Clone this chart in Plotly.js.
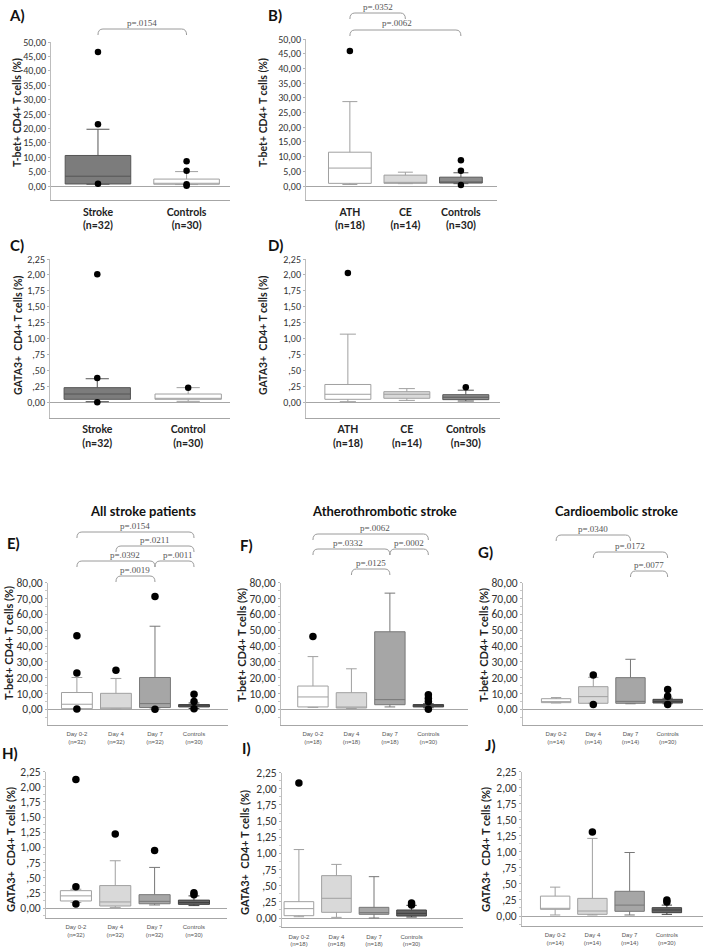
<!DOCTYPE html>
<html><head><meta charset="utf-8">
<script src="https://cdn.plot.ly/plotly-3.0.1.min.js"></script>
<style>body{margin:0;background:#fff}#c{width:708px;height:948px}</style>
</head><body><div id="c"></div>
<script>
// ---------- DATA ----------
// Tick labels
const tbet50Vals = [0,5,10,15,20,25,30,35,40,45,50];
const tbet50Text = ['0,00','5,00','10,00','15,00','20,00','25,00','30,00','35,00','40,00','45,00','50,00'];
const tbet80Vals = [0,10,20,30,40,50,60,70,80];
const tbet80Text = ['0,00','10,00','20,00','30,00','40,00','50,00','60,00','70,00','80,00'];
const gataVals = [0,0.25,0.5,0.75,1,1.25,1.5,1.75,2,2.25];
const gataText = ['0,00',',25',',50',',75','1,00','1,25','1,50','1,75','2,00','2,25'];

// Panel A: T-bet, Stroke vs Controls
const A_cats = ['Stroke','Controls'];
const A_labels = ['Stroke<br>(n=32)','Controls<br>(n=30)'];
const A_lower = [0.6, 0.5];
const A_q1 = [0.7, 0.6];
const A_median = [3.4, 0.9];
const A_q3 = [10.6, 2.4];
const A_upper = [19.7, 5.0];
const A_outCat = ['Stroke','Stroke','Stroke','Controls','Controls','Controls','Controls'];
const A_outVal = [46.5, 21.4, 0.8, 8.6, 5.3, 0.6, 0.1];

// Panel B: T-bet, ATH / CE / Controls
const B_cats = ['ATH','CE','Controls'];
const B_labels = ['ATH<br>(n=18)','CE<br>(n=14)','Controls<br>(n=30)'];
const B_lower = [0.5, 0.8, 0.8];
const B_q1 = [0.9, 0.9, 1.0];
const B_median = [6.1, 1.1, 1.3];
const B_q3 = [11.5, 3.7, 3.0];
const B_upper = [28.7, 4.7, 4.5];
const B_outCat = ['ATH','Controls','Controls','Controls'];
const B_outVal = [45.9, 8.8, 5.2, 0.3];

// Panel C: GATA3, Stroke vs Control
const C_cats = ['Stroke','Control'];
const C_labels = ['Stroke<br>(n=32)','Control<br>(n=30)'];
const C_lower = [0.01, 0.015];
const C_q1 = [0.047, 0.047];
const C_median = [0.13, 0.05];
const C_q3 = [0.23, 0.13];
const C_upper = [0.37, 0.23];
const C_outCat = ['Stroke','Stroke','Stroke','Control'];
const C_outVal = [2.01, 0.38, 0.0, 0.23];

// Panel D: GATA3, ATH / CE / Controls
const D_cats = ['ATH','CE','Controls'];
const D_labels = ['ATH<br>(n=18)','CE<br>(n=14)','Controls<br>(n=30)'];
const D_lower = [0.01, 0.03, 0.02];
const D_q1 = [0.047, 0.063, 0.042];
const D_median = [0.126, 0.126, 0.08];
const D_q3 = [0.28, 0.167, 0.12];
const D_upper = [1.07, 0.215, 0.19];
const D_outCat = ['ATH','Controls'];
const D_outVal = [2.03, 0.235];

// Time-course categories
const dayCats = ['Day 0-2','Day 4','Day 7','Controls'];
const allLabels = ['Day 0-2<br>(n=32)','Day 4<br>(n=32)','Day 7<br>(n=32)','Controls<br>(n=30)'];
const athLabels = ['Day 0-2<br>(n=18)','Day 4<br>(n=18)','Day 7<br>(n=18)','Controls<br>(n=30)'];
const ceLabels  = ['Day 0-2<br>(n=14)','Day 4<br>(n=14)','Day 7<br>(n=14)','Controls<br>(n=30)'];

// Panel E: T-bet, all stroke patients
const E_lower = [0.3, 0.1, 0.8, 0.5];
const E_q1 = [0.4, 0.2, 1.1, 1.5];
const E_median = [3.2, 0.3, 3.6, 2.2];
const E_q3 = [10.6, 10.1, 20.1, 3.0];
const E_upper = [20.1, 19.5, 52.5, 4.0];
const E_outCat = ['Day 0-2','Day 0-2','Day 0-2','Day 4','Day 7','Day 7','Controls','Controls','Controls'];
const E_outVal = [46.5, 23.0, 0.2, 24.7, 71.3, 0.0, 9.5, 4.9, 0.3];

// Panel F: T-bet, atherothrombotic
const F_lower = [1.2, 0.5, 1.5, 1.0];
const F_q1 = [1.5, 0.8, 2.9, 1.5];
const F_median = [7.8, 1.0, 6.1, 2.2];
const F_q3 = [14.7, 10.5, 49.0, 3.0];
const F_upper = [33.3, 25.6, 73.4, 3.5];
const F_outCat = ['Day 0-2','Controls','Controls','Controls','Controls'];
const F_outVal = [46.0, 9.2, 7.0, 5.0, 0.0];

// Panel G: T-bet, cardioembolic
const G_lower = [4.0, 3.8, 3.5, 3.5];
const G_q1 = [4.2, 3.8, 3.8, 4.0];
const G_median = [4.5, 8.0, 5.0, 5.0];
const G_q3 = [6.7, 14.3, 20.0, 6.3];
const G_upper = [7.4, 20.2, 31.6, 7.0];
const G_outCat = ['Day 4','Day 4','Controls','Controls','Controls'];
const G_outVal = [21.7, 3.1, 12.5, 8.3, 3.1];

// Panel H: GATA3, all stroke patients
const H_lower = [0.09, 0.01, 0.05, 0.04];
const H_q1 = [0.116, 0.033, 0.07, 0.06];
const H_median = [0.20, 0.10, 0.11, 0.09];
const H_q3 = [0.286, 0.37, 0.22, 0.13];
const H_upper = [0.31, 0.78, 0.67, 0.20];
const H_outCat = ['Day 0-2','Day 0-2','Day 0-2','Day 4','Day 7','Controls','Controls'];
const H_outVal = [2.12, 0.35, 0.066, 1.22, 0.95, 0.22, 0.25];

// Panel I: GATA3, atherothrombotic
const I_lower = [0.02, 0.01, 0.0, 0.015];
const I_q1 = [0.036, 0.088, 0.057, 0.031];
const I_median = [0.145, 0.305, 0.083, 0.072];
const I_q3 = [0.253, 0.656, 0.165, 0.124];
const I_upper = [1.06, 0.83, 0.64, 0.196];
const I_outCat = ['Day 0-2','Controls','Controls'];
const I_outVal = [2.09, 0.232, 0.2];

// Panel J: GATA3, cardioembolic
const J_lower = [0.016, 0.016, 0.016, 0.026];
const J_q1 = [0.104, 0.026, 0.073, 0.052];
const J_median = [0.12, 0.078, 0.17, 0.094];
const J_q3 = [0.31, 0.275, 0.385, 0.13];
const J_upper = [0.45, 1.21, 0.99, 0.17];
const J_outCat = ['Day 4','Controls','Controls'];
const J_outVal = [1.31, 0.25, 0.22];

// ---------- LAYOUT / STYLE ----------
const W = 708, H = 948;
const X = p => p / W, Y = p => 1 - p / H;

const fillsAC = ['#7c7c7c', '#ffffff'], linesAC = ['#555555', '#a0a0a0'];
const fillsBD = ['#ffffff', '#d9d9d9', '#8c8c8c'], linesBD = ['#a0a0a0', '#a0a0a0', '#585858'];
const fillsT = ['#ffffff', '#d9d9d9', '#a6a6a6', '#646464'], linesT = ['#a0a0a0', '#a0a0a0', '#777777', '#404040'];

const tbetTitle = 'T-bet+ CD4+ T cells (%)';
const gataTitle = 'GATA3+  CD4+ T cells (%)';

const panels = [
  {lab:'A)', lx:17, ly:15, cats:A_cats, labels:A_labels, st:[A_lower,A_q1,A_median,A_q3,A_upper], oc:A_outCat, ov:A_outVal,
   x0:51, x1:230, yt:42, y0:186, yb:200, vt:50, xr:[-0.53,1.49], bw:0.74, fills:fillsAC, lines:linesAC,
   tv:tbet50Vals, tt:tbet50Text, big:false, title:tbetTitle, tx:17, ty:113},
  {lab:'B)', lx:275, ly:15, cats:B_cats, labels:B_labels, st:[B_lower,B_q1,B_median,B_q3,B_upper], oc:B_outCat, ov:B_outVal,
   x0:306, x1:497, yt:39, y0:186, yb:200, vt:50, xr:[-0.79,2.65], bw:0.77, fills:fillsBD, lines:linesBD,
   tv:tbet50Vals, tt:tbet50Text, big:false, title:tbetTitle, tx:263, ty:113},
  {lab:'C)', lx:17, ly:245, cats:C_cats, labels:C_labels, st:[C_lower,C_q1,C_median,C_q3,C_upper], oc:C_outCat, ov:C_outVal,
   x0:50, x1:230, yt:259, y0:402.3, yb:417.7, vt:2.25, xr:[-0.52,1.46], bw:0.73, fills:fillsAC, lines:linesAC,
   tv:gataVals, tt:gataText, big:false, title:gataTitle, tx:18, ty:335},
  {lab:'D)', lx:275, ly:245, cats:D_cats, labels:D_labels, st:[D_lower,D_q1,D_median,D_q3,D_upper], oc:D_outCat, ov:D_outVal,
   x0:306, x1:500, yt:259, y0:402.3, yb:417.7, vt:2.25, xr:[-0.71,2.58], bw:0.78, fills:fillsBD, lines:linesBD,
   tv:gataVals, tt:gataText, big:false, title:gataTitle, tx:263, ty:335},
  {lab:'E)', lx:13, ly:543, cats:dayCats, labels:allLabels, st:[E_lower,E_q1,E_median,E_q3,E_upper], oc:E_outCat, ov:E_outVal,
   x0:48, x1:228, yt:582.7, y0:709.3, yb:724.5, vt:80, xr:[-0.74,3.87], bw:0.79, fills:fillsT, lines:linesT,
   tv:tbet80Vals, tt:tbet80Text, big:true, minor:5, title:tbetTitle, tx:8, ty:643},
  {lab:'F)', lx:246, ly:545, cats:dayCats, labels:athLabels, st:[F_lower,F_q1,F_median,F_q3,F_upper], oc:F_outCat, ov:F_outVal,
   x0:281, x1:468, yt:582.7, y0:709.3, yb:724.5, vt:80, xr:[-0.83,4.03], bw:0.79, fills:fillsT, lines:linesT,
   tv:tbet80Vals, tt:tbet80Text, big:true, minor:5, title:tbetTitle, tx:241, ty:645},
  {lab:'G)', lx:486, ly:552, cats:dayCats, labels:ceLabels, st:[G_lower,G_q1,G_median,G_q3,G_upper], oc:G_outCat, ov:G_outVal,
   x0:523, x1:703, yt:582.7, y0:709.3, yb:724.5, vt:80, xr:[-0.89,3.95], bw:0.79, fills:fillsT, lines:linesT,
   tv:tbet80Vals, tt:tbet80Text, big:true, minor:5, title:tbetTitle, tx:483, ty:645},
  {lab:'H)', lx:10, ly:753, cats:dayCats, labels:allLabels, st:[H_lower,H_q1,H_median,H_q3,H_upper], oc:H_outCat, ov:H_outVal,
   x0:46, x1:227, yt:771.7, y0:908, yb:917.7, vt:2.25, xr:[-0.76,3.84], bw:0.79, fills:fillsT, lines:linesT,
   tv:gataVals, tt:gataText, big:true, minor:0.125, title:gataTitle, tx:10, ty:850},
  {lab:'I)', lx:247, ly:748, cats:dayCats, labels:athLabels, st:[I_lower,I_q1,I_median,I_q3,I_upper], oc:I_outCat, ov:I_outVal,
   x0:282, x1:463, yt:772.7, y0:918, yb:927.3, vt:2.25, xr:[-0.45,4.37], bw:0.79, fills:fillsT, lines:linesT,
   tv:gataVals, tt:gataText, big:true, minor:0.125, title:gataTitle, tx:244, ty:853},
  {lab:'J)', lx:490, ly:745, cats:dayCats, labels:ceLabels, st:[J_lower,J_q1,J_median,J_q3,J_upper], oc:J_outCat, ov:J_outVal,
   x0:522, x1:703, yt:771.7, y0:916, yb:926, vt:2.25, xr:[-0.89,3.97], bw:0.79, fills:fillsT, lines:linesT,
   tv:gataVals, tt:gataText, big:true, minor:0.125, title:gataTitle, tx:485, ty:850}
];

// significance brackets: panel index, from category, to category, bracket top (px), label, text shift (px)
const brackets = [
  [0, 0, 1, 29, 'p=.0154', 0],
  [1, 0, 1, 13, 'p=.0352', 0],
  [1, 0, 2, 30, 'p=.0062', -8],
  [4, 0, 3, 532, 'p=.0154', 0],
  [4, 1, 3, 546, 'p=.0211', 0],
  [4, 0, 2, 561, 'p=.0392', 9],
  [4, 2, 3, 561, 'p=.0011', 3],
  [4, 1, 2, 576, 'p=.0019', 0],
  [5, 0, 3, 534, 'p=.0062', 4],
  [5, 0, 2, 549, 'p=.0332', -3],
  [5, 2, 3, 549, 'p=.0002', 0],
  [5, 1, 2, 569, 'p=.0125', 0],
  [6, 0, 2, 535, 'p=.0340', 0],
  [6, 1, 3, 552, 'p=.0172', 0],
  [6, 2, 3, 571, 'p=.0077', 0]
];
const headings = [
  ['All stroke patients', 143, 511],
  ['Atherothrombotic stroke', 385, 511],
  ['Cardioembolic stroke', 616, 511]
];

const SANS = 'Lato, "Open Sans", sans-serif';
const TICKSANS = '"Liberation Sans Narrow", Carlito, Lato, sans-serif';
const data = [];
const layout = {
  width: W, height: H, margin: {l:0, r:0, t:0, b:0},
  paper_bgcolor: '#ffffff', plot_bgcolor: 'rgba(0,0,0,0)',
  showlegend: false, hovermode: false,
  font: {family: SANS, color: '#333'},
  shapes: [], annotations: []
};

panels.forEach((p, i) => {
  const n = i === 0 ? '' : String(i + 1);
  const xa = 'x' + n, ya = 'y' + n;
  const s = (p.y0 - p.yt) / p.vt;
  const ylo = -(p.yb - p.y0) / s;
  p.cats.forEach((c, k) => {
    data.push({
      type: 'box', x: [c], xaxis: xa, yaxis: ya,
      lowerfence: [p.st[0][k]], q1: [p.st[1][k]], median: [p.st[2][k]],
      q3: [p.st[3][k]], upperfence: [p.st[4][k]],
      width: p.bw, whiskerwidth: 0.35, boxpoints: false,
      fillcolor: p.fills[k], line: {color: p.lines[k], width: 1}
    });
  });
  data.push({
    type: 'scatter', mode: 'markers', x: p.oc, y: p.ov, xaxis: xa, yaxis: ya,
    marker: {color: '#000', size: p.big ? 7.5 : 6.5}, cliponaxis: false
  });
  layout['xaxis' + n] = {
    domain: [X(p.x0), X(p.x1)], anchor: ya, type: 'category',
    categoryorder: 'array', categoryarray: p.cats, range: p.xr,
    tickvals: p.cats, ticktext: p.labels, ticks: '', showgrid: false, zeroline: false,
    showline: true, linecolor: '#a6a6a6', linewidth: 1,
    ticklabelstandoff: p.big ? 3 : 2,
    tickfont: p.big ? {family: '"Liberation Sans", Arial, sans-serif', size: 6, color: '#555'}
                    : {family: SANS, size: 10.5, color: '#222', weight: 'bold'},
    fixedrange: true
  };
  const yax = {
    domain: [Y(p.yb), Y(p.yt)], anchor: xa, range: [ylo, p.vt],
    tickmode: 'array', tickvals: p.tv, ticktext: p.tt,
    ticks: 'outside', ticklen: 2, tickcolor: '#b5b5b5', tickwidth: 1,
    showline: true, linecolor: '#bdbdbd', linewidth: 1, showgrid: false,
    zeroline: true, zerolinecolor: '#a6a6a6', zerolinewidth: 1,
    tickfont: {family: TICKSANS, size: p.big ? 11.5 : 10, color: '#333'},
    fixedrange: true
  };
  if (p.minor) yax.minor = {dtick: p.minor, ticks: 'outside', ticklen: 2, tickcolor: '#c8c8c8', showgrid: false};
  layout['yaxis' + n] = yax;

  layout.annotations.push({
    text: '<b>' + p.lab + '</b>', xref: 'paper', yref: 'paper', x: X(p.lx), y: Y(p.ly),
    xanchor: 'center', yanchor: 'middle', showarrow: false,
    font: {family: SANS, size: 15, color: '#111'}
  });
  layout.annotations.push({
    text: '<b>' + p.title + '</b>', xref: 'paper', yref: 'paper', x: X(p.tx), y: Y(p.ty),
    xanchor: 'center', yanchor: 'middle', showarrow: false, textangle: -90,
    font: {family: SANS, size: p.big ? 11 : 10.5, color: '#222'}
  });
});

const catPx = (p, k) => p.x0 + (k - p.xr[0]) / (p.xr[1] - p.xr[0]) * (p.x1 - p.x0);
brackets.forEach(b => {
  const p = panels[b[0]];
  const a = catPx(p, b[1]), c = catPx(p, b[2]), t = b[3];
  const r = 5, d = 6;
  const path = `M ${X(a)},${Y(t + d)} Q ${X(a)},${Y(t)} ${X(a + r)},${Y(t)} L ${X(c - r)},${Y(t)} Q ${X(c)},${Y(t)} ${X(c)},${Y(t + d)}`;
  layout.shapes.push({type: 'path', xref: 'paper', yref: 'paper', path: path,
    line: {color: '#9a9a9a', width: 1}});
  layout.annotations.push({
    text: b[4], xref: 'paper', yref: 'paper', x: X((a + c) / 2 + b[5]), y: Y(t - 0.5),
    xanchor: 'center', yanchor: 'bottom', showarrow: false, borderpad: 0,
    font: {family: '"Liberation Serif", "Times New Roman", serif', size: 9, color: '#555'}
  });
});
headings.forEach(h => {
  layout.annotations.push({
    text: '<b>' + h[0] + '</b>', xref: 'paper', yref: 'paper', x: X(h[1]), y: Y(h[2]),
    xanchor: 'center', yanchor: 'middle', showarrow: false,
    font: {family: SANS, size: 13, color: '#111'}
  });
});

Plotly.newPlot('c', data, layout, {staticPlot: true, displayModeBar: false});
</script></body></html>
